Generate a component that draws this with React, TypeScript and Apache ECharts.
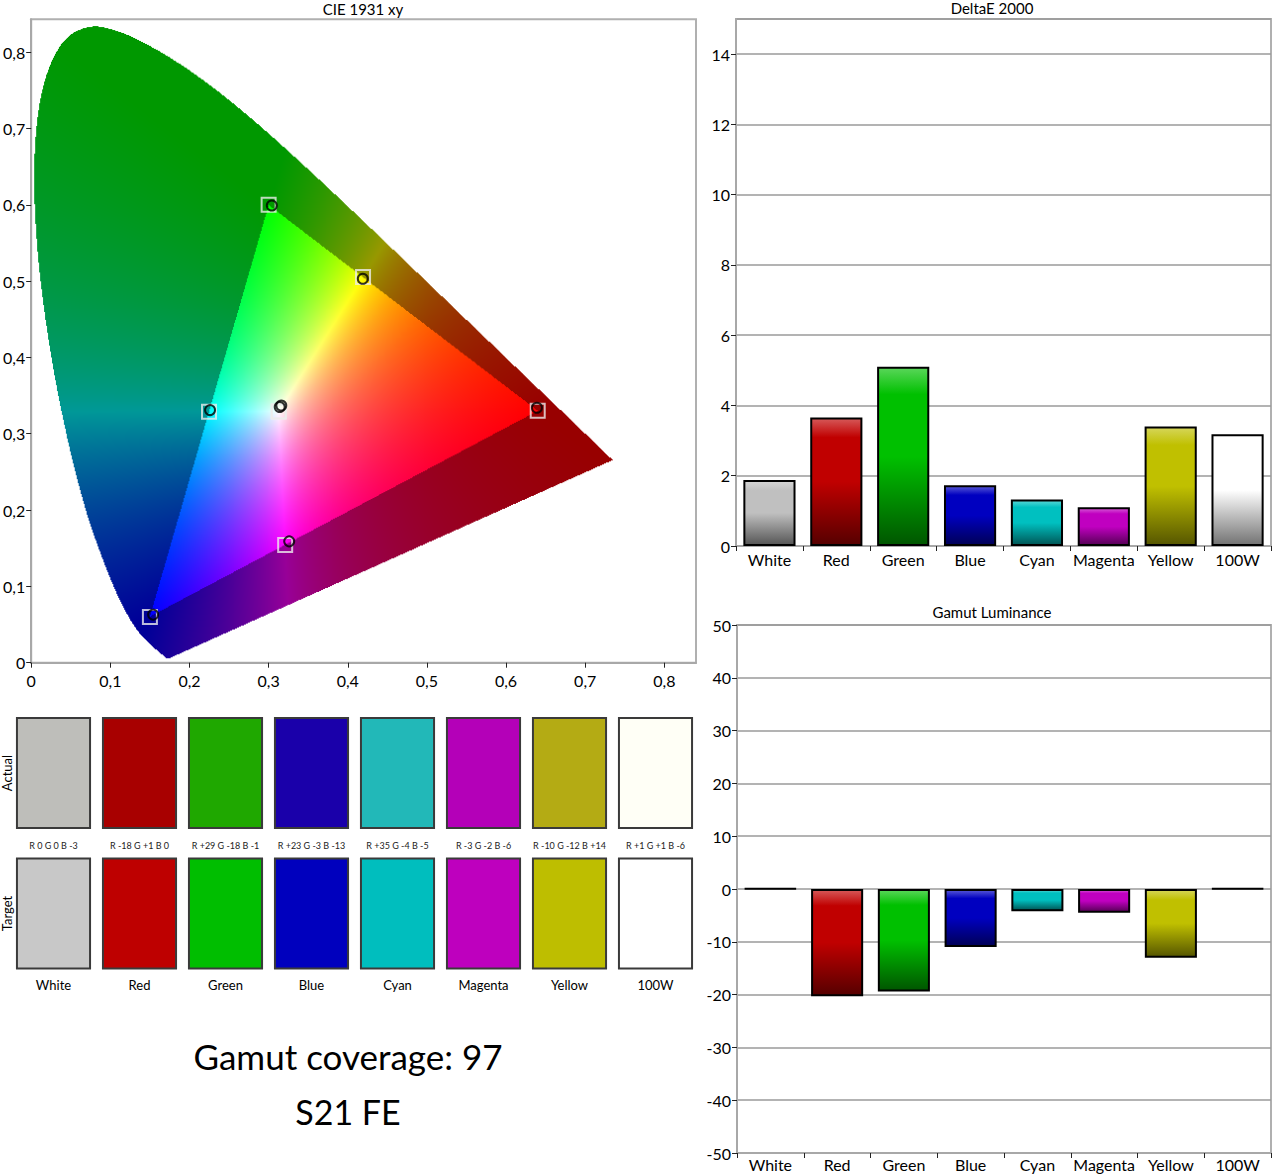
import React, { useEffect, useRef } from 'react';
import * as echarts from 'echarts';

const FONT = 'Lato, "Noto Sans", "DejaVu Sans", sans-serif';

// ---------- data ----------
const categories = ['White', 'Red', 'Green', 'Blue', 'Cyan', 'Magenta', 'Yellow', '100W'];
const barColors = ['#c0c0c0', '#c00000', '#00c000', '#0000c0', '#00c0c0', '#c000c0', '#c0c000', '#ffffff'];
const deltaE = [1.88, 3.66, 5.1, 1.73, 1.32, 1.1, 3.4, 3.18];
const luminance = [0.1, -20.3, -19.4, -11.0, -4.2, -4.5, -13.0, 0.1];

const targetX = [0.3127, 0.64, 0.3, 0.15, 0.2247, 0.3209, 0.4193, 0.3127];
const targetY = [0.329, 0.33, 0.6, 0.06, 0.3287, 0.1542, 0.5053, 0.329];
const actualX = [0.314, 0.639, 0.304, 0.154, 0.226, 0.326, 0.419, 0.316];
const actualY = [0.335, 0.334, 0.599, 0.063, 0.331, 0.159, 0.503, 0.337];

const actualSwatch = ['#bebeba', '#a80000', '#1fa800', '#1a00aa', '#22b8b8', '#b400b8', '#b4ab14', '#fffff6'];
const targetSwatch = ['#c8c8c8', '#be0000', '#00be00', '#0000be', '#00bebe', '#be00be', '#bebe00', '#ffffff'];
const deltaR = [0, -18, 29, 23, 35, -3, -10, 1];
const deltaG = [0, 1, -18, -3, -4, -2, -12, 1];
const deltaB = [-3, 0, -1, -13, -5, -6, 14, -6];
const swatchRows = ['Target', 'Actual'];

const coverage = 97;
const model = 'S21 FE';

// CIE 1931 2° spectral locus, 380–700 nm, 5 nm steps
const locusX = [
  0.1741, 0.1740, 0.1738, 0.1736, 0.1733, 0.1730, 0.1726, 0.1721, 0.1714, 0.1703,
  0.1689, 0.1669, 0.1644, 0.1611, 0.1566, 0.1510, 0.1440, 0.1355, 0.1241, 0.1096,
  0.0913, 0.0687, 0.0454, 0.0235, 0.0082, 0.0039, 0.0139, 0.0389, 0.0743, 0.1142,
  0.1547, 0.1929, 0.2296, 0.2658, 0.3016, 0.3373, 0.3731, 0.4087, 0.4441, 0.4788,
  0.5125, 0.5448, 0.5752, 0.6029, 0.6270, 0.6482, 0.6658, 0.6801, 0.6915, 0.7006,
  0.7079, 0.7140, 0.7190, 0.7230, 0.7260, 0.7283, 0.7300, 0.7311, 0.7320, 0.7327,
  0.7334, 0.7340, 0.7344, 0.7346, 0.7347,
];
const locusY = [
  0.0050, 0.0050, 0.0049, 0.0049, 0.0048, 0.0048, 0.0048, 0.0048, 0.0051, 0.0058,
  0.0069, 0.0086, 0.0109, 0.0138, 0.0177, 0.0227, 0.0297, 0.0399, 0.0578, 0.0868,
  0.1327, 0.2007, 0.2950, 0.4127, 0.5384, 0.6548, 0.7502, 0.8120, 0.8338, 0.8262,
  0.8059, 0.7816, 0.7543, 0.7243, 0.6923, 0.6589, 0.6245, 0.5896, 0.5547, 0.5202,
  0.4866, 0.4544, 0.4242, 0.3965, 0.3725, 0.3514, 0.3340, 0.3197, 0.3083, 0.2993,
  0.2920, 0.2859, 0.2809, 0.2770, 0.2740, 0.2717, 0.2700, 0.2689, 0.2680, 0.2673,
  0.2666, 0.2660, 0.2656, 0.2654, 0.2653,
];

// ---------- helpers ----------
function hexToRgb(h: string) {
  const n = parseInt(h.slice(1), 16);
  return [(n >> 16) & 255, (n >> 8) & 255, n & 255];
}
function mix(h: string, t: string, f: number) {
  const a = hexToRgb(h);
  const b = hexToRgb(t);
  const c = a.map((v, i) => Math.round(v + (b[i] - v) * f));
  return `rgb(${c[0]},${c[1]},${c[2]})`;
}
function grad(h: string) {
  return new echarts.graphic.LinearGradient(0, 0, 0, 1, [
    { offset: 0, color: mix(h, '#ffffff', 0.35) },
    { offset: 0.15, color: h },
    { offset: 0.5, color: h },
    { offset: 1, color: mix(h, '#000000', 0.55) },
  ]);
}
function sgn(v: number) {
  return v > 0 ? '+' + v : String(v);
}
function fmtComma(v: number) {
  if (Math.abs(v) < 1e-9) return '0';
  return v.toFixed(1).replace('.', ',');
}

// smooth outline of the locus (Catmull-Rom) for drawing the filled region
function smoothLocus(): [number[], number[]] {
  const n = locusX.length;
  const ox: number[] = [];
  const oy: number[] = [];
  const S = 12;
  for (let k = 0; k < n - 1; k++) {
    const p0 = Math.max(k - 1, 0), p1 = k, p2 = k + 1, p3 = Math.min(k + 2, n - 1);
    for (let s = 0; s < S; s++) {
      const t = s / S, t2 = t * t, t3 = t2 * t;
      const f = (a: number[]) =>
        0.5 * (2 * a[p1] + (-a[p0] + a[p2]) * t + (2 * a[p0] - 5 * a[p1] + 4 * a[p2] - a[p3]) * t2 +
          (-a[p0] + 3 * a[p1] - 3 * a[p2] + a[p3]) * t3);
      ox.push(f(locusX));
      oy.push(f(locusY));
    }
  }
  ox.push(locusX[n - 1]);
  oy.push(locusY[n - 1]);
  return [ox, oy];
}

// Build the chromaticity fill image in data space (x 0..0.74, y 0..0.84)
const IMG_X0 = 0, IMG_X1 = 0.74, IMG_Y0 = 0, IMG_Y1 = 0.84;
function buildGamutImage(): string {
  const [px, py] = smoothLocus();
  const W = Math.round((IMG_X1 - IMG_X0) * 800);
  const H = Math.round((IMG_Y1 - IMG_Y0) * 770);
  const canvas = document.createElement('canvas');
  canvas.width = W;
  canvas.height = H;
  const ctx = canvas.getContext('2d')!;
  const img = ctx.createImageData(W, H);
  const n = px.length;
  for (let j = 0; j < H; j++) {
    const y = IMG_Y1 - ((j + 0.5) / H) * (IMG_Y1 - IMG_Y0);
    const xs: number[] = [];
    for (let k = 0; k < n; k++) {
      const ax = px[k], ay = py[k];
      const bx = px[(k + 1) % n], by = py[(k + 1) % n];
      if ((ay > y) !== (by > y)) xs.push(ax + ((y - ay) / (by - ay)) * (bx - ax));
    }
    xs.sort((a, b) => a - b);
    for (let i = 0; i < W; i++) {
      const x = IMG_X0 + ((i + 0.5) / W) * (IMG_X1 - IMG_X0);
      let inside = false;
      for (let q = 0; q < xs.length; q++) if (xs[q] < x) inside = !inside;
      if (!inside) continue;
      const X = x / y;
      const Z = (1 - x - y) / y;
      let r = 3.2406 * X - 1.5372 - 0.4986 * Z;
      let g = -0.9689 * X + 1.8758 + 0.0415 * Z;
      let b = 0.0557 * X - 0.204 + 1.057 * Z;
      const inG = r >= 0 && g >= 0 && b >= 0;
      r = Math.max(r, 0); g = Math.max(g, 0); b = Math.max(b, 0);
      const m = Math.max(r, g, b) || 1;
      const k = inG ? 255 : 152;
      const p = (j * W + i) * 4;
      img.data[p] = Math.round((r / m) * k);
      img.data[p + 1] = Math.round((g / m) * k);
      img.data[p + 2] = Math.round((b / m) * k);
      img.data[p + 3] = 255;
    }
  }
  ctx.putImageData(img, 0, 0);
  return canvas.toDataURL();
}

const axisLineStyle = { lineStyle: { color: '#a8a8a8', width: 2 } };
const tickStyle = { show: true, length: 5, lineStyle: { color: '#222', width: 1 } };
const labelStyle = { color: '#000', fontFamily: FONT, fontSize: 16 };

export default function App() {
  const ref = useRef<HTMLDivElement>(null);
  useEffect(() => {
    document.body.style.margin = '0';
    document.body.style.overflow = 'hidden';
    const chart = echarts.init(ref.current!, null, { renderer: 'svg' });
    const gamutUrl = buildGamutImage();

    const option: any = {
      animation: false,
      backgroundColor: '#ffffff',
      grid: [
        { left: 30.7, top: 19.3, width: 665.3, height: 643.4, show: true, borderColor: '#b0b0b0', borderWidth: 2 },
        { left: 736, top: 19, width: 535, height: 527, show: true, borderColor: '#b0b0b0', borderWidth: 2 },
        { left: 737, top: 625, width: 534, height: 528, show: true, borderColor: '#b0b0b0', borderWidth: 2 },
        { left: 10.5, top: 702.75, width: 688, height: 281 },
      ],
      xAxis: [
        {
          gridIndex: 0, type: 'value', min: 0, max: 0.84, interval: 0.1,
          axisLine: { onZero: false, ...axisLineStyle }, axisTick: tickStyle,
          axisLabel: { ...labelStyle, margin: 10, showMaxLabel: false, formatter: fmtComma },
          splitLine: { show: false },
        },
        {
          gridIndex: 1, type: 'category', data: categories,
          axisLine: axisLineStyle, axisTick: tickStyle,
          axisLabel: { ...labelStyle, margin: 5, interval: 0 },
        },
        {
          gridIndex: 2, type: 'category', data: categories,
          axisLine: { onZero: false, ...axisLineStyle }, axisTick: tickStyle,
          axisLabel: { ...labelStyle, margin: 3, interval: 0 },
        },
        { gridIndex: 3, type: 'category', data: categories, show: false },
      ],
      yAxis: [
        {
          gridIndex: 0, type: 'value', min: 0, max: 0.843, interval: 0.1,
          axisLine: { show: true, onZero: false, ...axisLineStyle }, axisTick: tickStyle,
          axisLabel: { ...labelStyle, margin: 6, showMaxLabel: false, formatter: fmtComma },
          splitLine: { show: false },
        },
        {
          gridIndex: 1, type: 'value', min: 0, max: 15, interval: 2,
          axisLine: { show: true, ...axisLineStyle }, axisTick: tickStyle,
          axisLabel: { ...labelStyle, margin: 6, showMaxLabel: false },
          splitLine: { lineStyle: { color: '#9a9a9a', width: 1.5 } },
        },
        {
          gridIndex: 2, type: 'value', min: -50, max: 50, interval: 10,
          axisLine: { show: true, ...axisLineStyle }, axisTick: tickStyle,
          axisLabel: { ...labelStyle, margin: 6 },
          splitLine: { lineStyle: { color: '#9a9a9a', width: 1.5 } },
        },
        {
          gridIndex: 3, type: 'category', data: swatchRows,
          axisLine: { show: false }, axisTick: { show: false },
          axisLabel: { show: true, rotate: 90, margin: -3, color: '#000', fontFamily: FONT, fontSize: 13 },
        },
      ],
      series: [
        {
          type: 'custom', xAxisIndex: 0, yAxisIndex: 0, silent: true, clip: false, z: 1,
          data: [[IMG_X0, IMG_Y1, IMG_X1, IMG_Y0]],
          renderItem: (_p: any, api: any) => {
            const p0 = api.coord([api.value(0), api.value(1)]);
            const p1 = api.coord([api.value(2), api.value(3)]);
            return {
              type: 'image',
              style: { image: gamutUrl, x: p0[0], y: p0[1], width: p1[0] - p0[0], height: p1[1] - p0[1] },
            };
          },
        },
        {
          type: 'scatter', xAxisIndex: 0, yAxisIndex: 0, silent: true, z: 3,
          data: targetX.map((x, i) => [x, targetY[i]]),
          symbol: 'rect', symbolSize: 14,
          itemStyle: { color: 'rgba(0,0,0,0)', borderColor: '#ececec', borderWidth: 2 },
        },
        {
          type: 'scatter', xAxisIndex: 0, yAxisIndex: 0, silent: true, z: 4,
          data: actualX.map((x, i) => [x, actualY[i]]),
          symbol: 'circle', symbolSize: 10,
          itemStyle: { color: 'rgba(0,0,0,0)', borderColor: '#000', borderWidth: 2 },
        },
        {
          type: 'bar', xAxisIndex: 1, yAxisIndex: 1, silent: true, barCategoryGap: '22%',
          data: deltaE.map((v, i) => ({ value: v, itemStyle: { color: grad(barColors[i]), borderColor: '#000', borderWidth: 2 } })),
        },
        {
          type: 'bar', xAxisIndex: 2, yAxisIndex: 2, silent: true, barCategoryGap: '22%',
          data: luminance.map((v, i) => ({ value: v, itemStyle: { color: grad(barColors[i]), borderColor: '#000', borderWidth: 2 } })),
        },
        {
          type: 'custom', xAxisIndex: 3, yAxisIndex: 3, silent: true, clip: false,
          data: categories.map((_c, i) => [i, 1]),
          renderItem: (params: any, api: any) => {
            const i = params.dataIndex;
            const a = api.coord([i, 1]);
            const t = api.coord([i, 0]);
            const size = api.size([1, 1]);
            const w = size[0] * 0.85;
            const h = size[1] * 0.783;
            return {
              type: 'group',
              children: [
                {
                  type: 'rect',
                  shape: { x: a[0] - w / 2, y: a[1] - h / 2, width: w, height: h },
                  style: { fill: actualSwatch[i], stroke: '#3a3a3a', lineWidth: 2 },
                },
                {
                  type: 'rect',
                  shape: { x: t[0] - w / 2, y: t[1] - h / 2, width: w, height: h },
                  style: { fill: targetSwatch[i], stroke: '#3a3a3a', lineWidth: 2 },
                },
                {
                  type: 'text',
                  style: {
                    text: `R ${sgn(deltaR[i])} G ${sgn(deltaG[i])} B ${sgn(deltaB[i])}`,
                    x: a[0], y: a[1] + h / 2 + 17, align: 'center', verticalAlign: 'middle',
                    fontFamily: FONT, fontSize: 9, fill: '#222',
                  },
                },
                {
                  type: 'text',
                  style: {
                    text: categories[i], x: t[0], y: t[1] + h / 2 + 16, align: 'center', verticalAlign: 'middle',
                    fontFamily: FONT, fontSize: 13, fill: '#000',
                  },
                },
              ],
            };
          },
        },
      ],
      graphic: [
        { type: 'text', x: 363, y: 9, style: { text: 'CIE 1931 xy', align: 'center', verticalAlign: 'middle', fontFamily: FONT, fontSize: 15, fill: '#000' } },
        { type: 'text', x: 992, y: 8, style: { text: 'DeltaE 2000', align: 'center', verticalAlign: 'middle', fontFamily: FONT, fontSize: 15, fill: '#000' } },
        { type: 'text', x: 992, y: 612, style: { text: 'Gamut Luminance', align: 'center', verticalAlign: 'middle', fontFamily: FONT, fontSize: 15, fill: '#000' } },
        { type: 'text', x: 348, y: 1056, style: { text: `Gamut coverage: ${coverage}`, align: 'center', verticalAlign: 'middle', fontFamily: FONT, fontSize: 35, fill: '#000' } },
        { type: 'text', x: 348, y: 1111, style: { text: model, align: 'center', verticalAlign: 'middle', fontFamily: FONT, fontSize: 34, fill: '#000' } },
      ],
    };
    chart.setOption(option);
    return () => chart.dispose();
  }, []);
  return <div ref={ref} style={{ width: 1276, height: 1174 }} />;
}
